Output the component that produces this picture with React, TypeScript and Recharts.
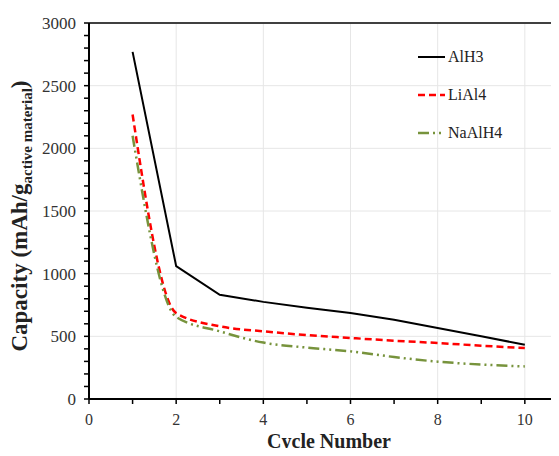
import { LineChart, Line, XAxis, YAxis, CartesianGrid, Legend, ReferenceLine } from "recharts";

const CYCLES = [1, 2, 3, 4, 5, 6, 7, 8, 9, 10];
const ALH3 = [2770, 1060, 832, 775, 728, 686, 633, 566, 500, 433];
const LIAL4 = [2270, 685, 580, 540, 510, 487, 465, 447, 425, 407];
const NAALH4 = [2100, 655, 540, 450, 410, 380, 335, 298, 275, 260];

const X_TICKS = [0, 1, 2, 3, 4, 5, 6, 7, 8, 9, 10, 11, 12];
const X_LABELS = [0, 2, 4, 6, 8, 10];
const Y_TICKS = [
  0, 100, 200, 300, 400, 500, 600, 700, 800, 900, 1000, 1100, 1200, 1300, 1400, 1500,
  1600, 1700, 1800, 1900, 2000, 2100, 2200, 2300, 2400, 2500, 2600, 2700, 2800, 2900, 3000
];
const Y_LABELS = [0, 500, 1000, 1500, 2000, 2500, 3000];

const data = CYCLES.map((c, i) => ({ cycle: c, AlH3: ALH3[i], LiAl4: LIAL4[i], NaAlH4: NAALH4[i] }));

const SERIES = [
  { key: "AlH3", color: "#000000", dash: undefined, width: 2, type: "linear" },
  { key: "LiAl4", color: "#ff0000", dash: "7 4", width: 2.5, type: "monotone" },
  { key: "NaAlH4", color: "#77933c", dash: "11 4 2 4 2 4", width: 2.5, type: "monotone" }
];

const FONT = "'Liberation Serif', 'Times New Roman', serif";

const YTick = ({ x, y, payload }: any) =>
  Y_LABELS.includes(payload.value) ? (
    <text x={x} y={y} dy="0.35em" textAnchor="end" fontFamily={FONT} fontSize={17} fill="#333">
      {payload.value}
    </text>
  ) : null;

const XTick = ({ x, y, payload }: any) =>
  X_LABELS.includes(payload.value) ? (
    <text x={x} y={y} dy="0.72em" textAnchor="middle" fontFamily={FONT} fontSize={16} fill="#333">
      {payload.value}
    </text>
  ) : null;

const YTitle = ({ viewBox }: any) => {
  const cx = 19;
  const cy = viewBox.y + viewBox.height / 2 + 5;
  return (
    <text transform={`translate(${cx},${cy}) rotate(-90)`} textAnchor="middle" fontFamily={FONT} fontWeight="bold" fontSize={23} fill="#222">
      Capacity (mAh/g
      <tspan fontSize={15} dy={5}>active material</tspan>
      <tspan dy={-5}>)</tspan>
    </text>
  );
};

const XTitle = () => (
  <text x={321} y={440} textAnchor="middle" fontFamily={FONT} fontWeight="bold" fontSize={20} fill="#222">
    Cycle Number
  </text>
);

const LegendBox = () => (
  <div style={{ fontFamily: FONT, fontSize: 16, color: "#222" }}>
    {SERIES.map((s) => (
      <div key={s.key} style={{ display: "flex", alignItems: "center", height: 38 }}>
        <svg width={30} height={10}>
          <line x1={0} y1={5} x2={27} y2={5} stroke={s.color} strokeWidth={s.width} strokeDasharray={s.dash} />
        </svg>
        <span>{s.key}</span>
      </div>
    ))}
  </div>
);

export default function App() {
  return (
    <div style={{ width: 551, height: 448, overflow: "hidden", marginBottom: -8 }}>
      <LineChart width={610} height={448} data={data} margin={{ top: 15, right: 6, bottom: 17, left: 0 }}>
        <CartesianGrid
          stroke="#e6e6e6"
          horizontalValues={[500, 1000, 1500, 2000, 2500, 3000]}
          verticalValues={[2, 4, 6, 8, 10, 12]}
        />
        <XAxis
          dataKey="cycle"
          type="number"
          domain={[0, 12]}
          ticks={X_TICKS}
          interval={0}
          height={40}
          tick={<XTick />}
          tickSize={5}
          tickMargin={9}
          axisLine={{ stroke: "#000", strokeWidth: 2 }}
          tickLine={{ stroke: "#000", strokeWidth: 1.5 }}
          label={<XTitle />}
        />
        <YAxis
          type="number"
          domain={[0, 3000]}
          ticks={Y_TICKS}
          interval={0}
          width={81}
          tick={<YTick />}
          tickSize={5}
          tickMargin={8}
          axisLine={{ stroke: "#000", strokeWidth: 2 }}
          tickLine={{ stroke: "#000", strokeWidth: 1.5 }}
          label={<YTitle />}
        />
        <ReferenceLine y={3000} stroke="#404040" strokeWidth={2} />
        {SERIES.map((s) => (
          <Line
            key={s.key}
            dataKey={s.key}
            type={s.type as any}
            stroke={s.color}
            strokeWidth={s.width}
            strokeDasharray={s.dash}
            dot={false}
            isAnimationActive={false}
          />
        ))}
        <Legend
          layout="vertical"
          verticalAlign="middle"
          align="center"
          wrapperStyle={{ left: 410, top: 30, width: 120 }}
          content={<LegendBox />}
        />
      </LineChart>
    </div>
  );
}
